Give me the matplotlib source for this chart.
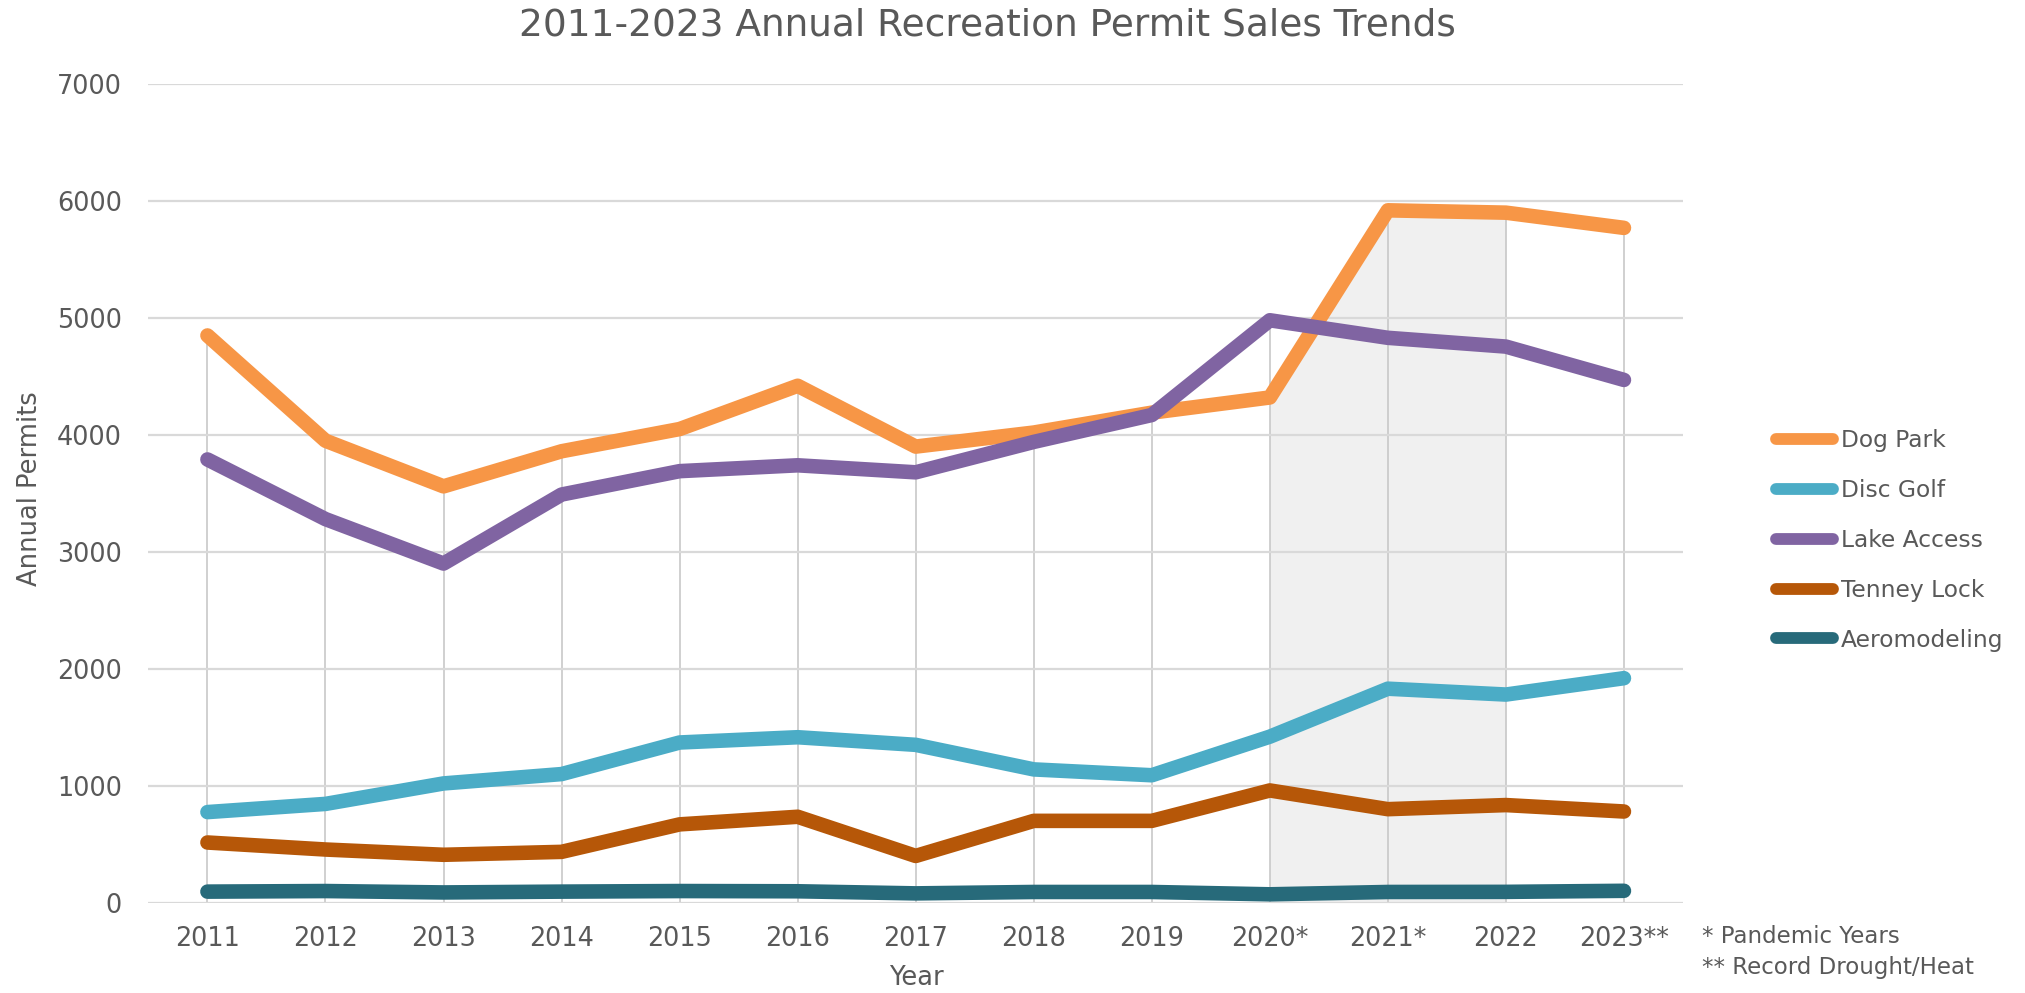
import matplotlib
matplotlib.use("Agg")
import matplotlib.pyplot as plt
import numpy as np

# Annual permit counts per program, 2011-2023
years = ["2011", "2012", "2013", "2014", "2015", "2016", "2017",
         "2018", "2019", "2020*", "2021*", "2022", "2023**"]
dog_park = [4850, 3950, 3560, 3860, 4050, 4420, 3900, 4020, 4190, 4320, 5920, 5900, 5770]
disc_golf = [775, 845, 1020, 1100, 1370, 1415, 1350, 1140, 1090, 1420, 1830, 1780, 1920]
lake_access = [3790, 3280, 2900, 3490, 3690, 3740, 3680, 3940, 4170, 4980, 4830, 4755, 4470]
tenney_lock = [515, 455, 410, 435, 670, 735, 400, 700, 700, 960, 800, 835, 780]
aeromodeling = [95, 100, 88, 95, 100, 98, 80, 92, 92, 72, 92, 93, 102]

series = [
    ("Dog Park", dog_park, "#F79646"),
    ("Disc Golf", disc_golf, "#4BACC6"),
    ("Lake Access", lake_access, "#8064A2"),
    ("Tenney Lock", tenney_lock, "#B65708"),
    ("Aeromodeling", aeromodeling, "#276A7A"),
]

# pandemic years highlighted under the Dog Park curve
shade_start, shade_end = "2020*", "2022"

TEXT = "#595959"
plt.rcParams["font.family"] = ["DejaVu Sans"]

fig = plt.figure(figsize=(20.25, 9.93), dpi=100)
ax = fig.add_axes([0.0733, 0.0909, 0.7578, 0.8245])

x = np.arange(len(years))
i0, i1 = years.index(shade_start), years.index(shade_end)
ax.fill_between(x[i0:i1 + 1], 0, dog_park[i0:i1 + 1], color="#F0F0F0", lw=0, zorder=1)

# drop lines from the highest point of each year down to the axis
top = np.max([s[1] for s in series], axis=0)
ax.vlines(x, 0, top, color="#C4C4C4", lw=1.1, zorder=2)

for k, (name, vals, col) in enumerate(series):
    ax.plot(x, vals, color=col, lw=10.5, solid_capstyle="round",
            solid_joinstyle="round", label=name, zorder=4 + k)

ax.set_xlim(-0.5, len(years) - 0.5)
ax.set_ylim(0, 7000)
ax.set_yticks(np.arange(0, 7001, 1000))
ax.set_xticks(x)
ax.set_xticklabels(years)
ax.set_axisbelow(False)
ax.yaxis.grid(True, color="#D9D9D9", lw=1.6, zorder=1.5)
for sp in ax.spines.values():
    sp.set_visible(False)
ax.tick_params(axis="both", length=0, labelsize=18.4, colors=TEXT)
ax.tick_params(axis="x", pad=17)
ax.tick_params(axis="y", pad=19)

fig.text(0.0148, 0.5076, "Annual Permits", fontsize=18.5, color=TEXT,
         rotation=90, ha="center", va="center")
fig.text(0.4523, 0.0151, "Year", fontsize=18.5, color=TEXT, ha="center", va="center")
fig.text(0.4874, 0.974, "2011-2023 Annual Recreation Permit Sales Trends",
         fontsize=27, color=TEXT, ha="center", va="center")

fig.text(0.8405, 0.0564, "* Pandemic Years", fontsize=16.5, color=TEXT, va="center")
fig.text(0.8405, 0.0252, "** Record Drought/Heat", fontsize=16.5, color=TEXT, va="center")

leg = ax.legend(loc="center left", bbox_to_anchor=(0.8665, 0.4557),
                bbox_transform=fig.transFigure, frameon=False, fontsize=16.8,
                handlelength=2.45, handletextpad=0.35, labelspacing=1.15,
                borderpad=0.4)
for t in leg.get_texts():
    t.set_color(TEXT)
for ln in leg.get_lines():
    ln.set_linewidth(8.5)
    ln.set_solid_capstyle("round")

fig.savefig("out.png", dpi=100)
